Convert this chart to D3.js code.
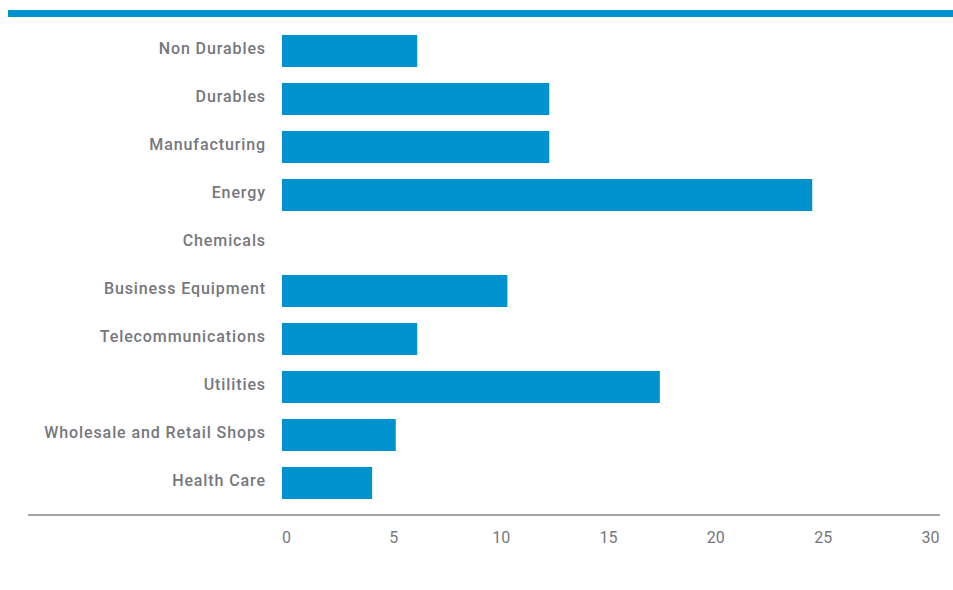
<!DOCTYPE html>
<html>
<head>
<meta charset="utf-8">
<script src="https://cdn.jsdelivr.net/npm/d3@7/dist/d3.min.js"></script>
<style>
  html, body { margin: 0; padding: 0; background: #fff; }
  svg { display: block; }
</style>
</head>
<body>
<svg id="chart" width="953" height="590"></svg>
<script>
const categories = ["Non Durables", "Durables", "Manufacturing", "Energy", "Chemicals",
  "Business Equipment", "Telecommunications", "Utilities", "Wholesale and Retail Shops", "Health Care"];
const values = [6.3, 12.45, 12.45, 24.7, 0, 10.5, 6.3, 17.6, 5.3, 4.2];
const tickValues = [0, 5, 10, 15, 20, 25, 30];

const svg = d3.select("#chart");
const blue = "#0091cf";
const textColor = "#76777e";
const font = "Roboto, 'Open Sans', sans-serif";

// top accent bar
svg.append("rect").attr("x", 8).attr("y", 10).attr("width", 945).attr("height", 7).attr("fill", blue);

const x = d3.scaleLinear().domain([0, 30]).range([282, 926]);
const y = d3.scaleBand().domain(categories).range([27, 507]).paddingInner(1/3).paddingOuter(1/6);

svg.append("g").selectAll("rect").data(categories).join("rect")
  .attr("x", x(0))
  .attr("y", d => y(d))
  .attr("width", (d, i) => x(values[i]) - x(0))
  .attr("height", y.bandwidth())
  .attr("fill", blue);

// category labels
svg.append("g").selectAll("text").data(categories).join("text")
  .attr("x", 266)
  .attr("y", d => y(d) + y.bandwidth() / 2 - 3)
  .attr("dy", "0.35em")
  .attr("text-anchor", "end")
  .attr("font-family", font)
  .attr("font-size", 16)
  .attr("font-weight", 500)
  .attr("letter-spacing", "0.9px")
  .attr("fill", textColor)
  .text(d => d);

// axis baseline
svg.append("line").attr("x1", 28).attr("x2", 940).attr("y1", 515).attr("y2", 515)
  .attr("stroke", "#a3a3a8").attr("stroke-width", 2);

// x axis tick labels
const axis = d3.axisBottom(x).tickValues(tickValues).tickSize(0).tickPadding(0);
const g = svg.append("g").attr("transform", "translate(4,537)").call(axis);
g.select(".domain").remove();
g.selectAll("text")
  .attr("dy", "0.35em")
  .attr("font-family", font)
  .attr("font-size", 16)
  .attr("fill", textColor);
</script>
</body>
</html>
